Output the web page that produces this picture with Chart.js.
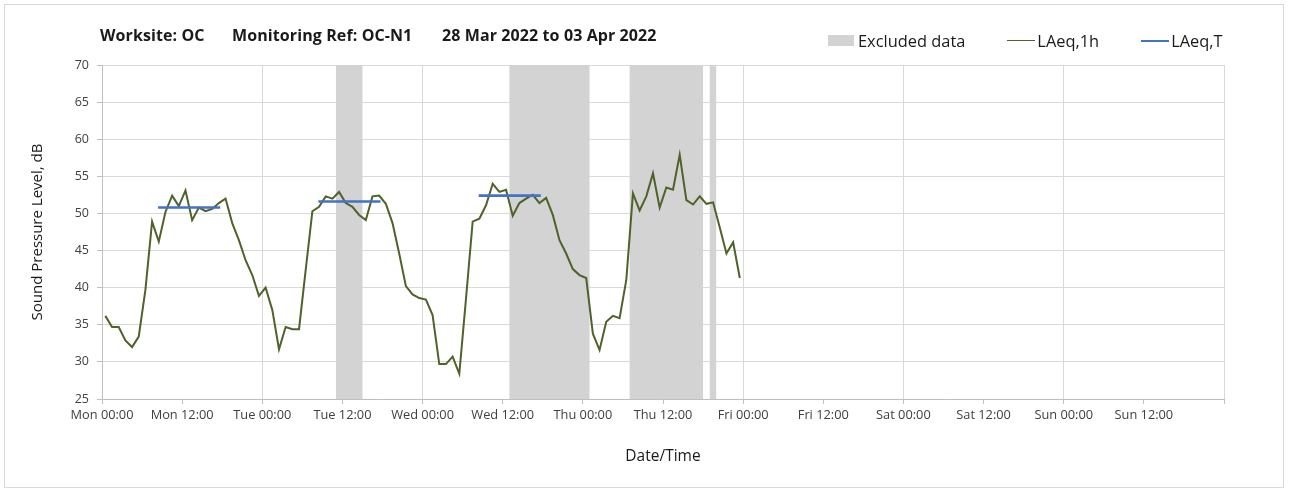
<!DOCTYPE html>
<html>
<head>
<meta charset="utf-8">
<script src="https://cdn.jsdelivr.net/npm/chart.js@4.4.0/dist/chart.umd.min.js"></script>
<style>
  html, body { margin: 0; padding: 0; background: #fff; }
  #wrap { position: relative; width: 1293px; height: 492px; overflow: hidden; }
  #frame { position: absolute; left: 4px; top: 4px; width: 1280px; height: 484px; border: 1px solid #d9d9d9; box-sizing: border-box; pointer-events: none; }
  #title { position: absolute; left: 100px; top: 24px; font-family: "Open Sans", sans-serif; font-weight: bold; font-size: 16px; color: #1a1a1a; white-space: nowrap; letter-spacing: 0.1px; }
  #title span { position: absolute; top: 0; }
  #legend { position: absolute; left: 828px; top: 29px; font-family: "Open Sans", sans-serif; font-size: 16.4px; color: #1a1a1a; white-space: nowrap; display: flex; align-items: center; }
  .lg { display: flex; align-items: center; }
  .sw-box { width: 26px; height: 11px; background: #d3d3d3; margin-right: 4px; }
  .sw-line { width: 28px; height: 0; margin-right: 2px; }
  canvas { position: absolute; left: 0; top: 0; }
</style>
</head>
<body>
<div id="wrap">
  <canvas id="c" width="1293" height="492"></canvas>
  <div id="title"><span style="left:0">Worksite: OC</span><span style="left:132px">Monitoring Ref: OC-N1</span><span style="left:342px">28 Mar 2022 to 03 Apr 2022</span></div>
  <div id="legend"></div>
  <div id="frame"></div>
</div>
<script>
// ---- data (hours from Mon 00:00) ----
const xTickLabels = ['Mon 00:00','Mon 12:00','Tue 00:00','Tue 12:00','Wed 00:00','Wed 12:00','Thu 00:00','Thu 12:00','Fri 00:00','Fri 12:00','Sat 00:00','Sat 12:00','Sun 00:00','Sun 12:00',''];
const laeq1h = [
  36.2, 34.7, 34.7, 32.9, 32.0, 33.4, 39.7, 48.9, 46.2, 50.2, 52.4, 51.0,
  53.1, 49.1, 50.8, 50.3, 50.6, 51.4, 52.0, 48.7, 46.4, 43.7, 41.7, 38.9,
  40.0, 37.0, 31.7, 34.7, 34.4, 34.4, 42.4, 50.3, 50.9, 52.3, 52.0, 52.9,
  51.4, 50.9, 49.8, 49.1, 52.3, 52.4, 51.3, 48.7, 44.6, 40.2, 39.1, 38.6,
  38.4, 36.3, 29.7, 29.7, 30.7, 28.4, 38.5, 48.9, 49.3, 51.1, 54.0, 52.9,
  53.2, 49.7, 51.4, 52.0, 52.5, 51.4, 52.1, 49.8, 46.4, 44.6, 42.5, 41.7,
  41.3, 33.8, 31.6, 35.4, 36.2, 35.9, 41.0, 52.7, 50.4, 52.3, 55.4, 50.8,
  53.5, 53.2, 57.9, 51.8, 51.2, 52.3, 51.3, 51.5, 48.1, 44.6, 46.1, 41.3
];
const laeqT = [50.8, 51.6, 52.4];
const laeqTStart = [8.4, 32.4, 56.4];
const laeqTEnd = [17.7, 41.7, 65.7];
const excludedStart = [35, 61, 79, 91];
const excludedEnd = [39, 73, 90, 92];
const yMin = 25, yMax = 70;

// ---- build library data ----
const lineData = laeq1h.map((v, i) => ({ x: i + 0.5, y: v }));
const tData = [];
laeqT.forEach((v, i) => {
  tData.push({ x: laeqTStart[i], y: v });
  tData.push({ x: laeqTEnd[i], y: v });
  tData.push({ x: laeqTEnd[i] + 0.5, y: null });
});
const exData = [];
excludedStart.forEach((s, i) => {
  exData.push({ x: s, y: yMin });
  exData.push({ x: s, y: yMax });
  exData.push({ x: excludedEnd[i], y: yMax });
  exData.push({ x: excludedEnd[i], y: yMin });
});

const COL_GREEN = '#4f6228';
const COL_BLUE = '#4472c4';
const COL_EX = '#d3d3d3';
const FONT = '"Open Sans", sans-serif';

const chart = new Chart(document.getElementById('c'), {
  type: 'line',
  data: {
    datasets: [
      { label: 'Excluded data', data: exData, fill: 'start', backgroundColor: COL_EX, borderWidth: 0, borderColor: COL_EX, pointRadius: 0, tension: 0, order: 3 },
      { label: 'LAeq,1h', data: lineData, borderColor: COL_GREEN, borderWidth: 2, pointRadius: 0, tension: 0, fill: false, order: 2 },
      { label: 'LAeq,T', data: tData, borderColor: COL_BLUE, borderWidth: 2.6, pointRadius: 0, tension: 0, fill: false, spanGaps: false, order: 1 }
    ]
  },
  options: {
    responsive: false,
    animation: false,
    events: [],
    layout: { padding: { left: 27, right: 69, top: 65, bottom: 22 } },
    plugins: { legend: { display: false }, title: { display: false }, tooltip: { enabled: false } },
    scales: {
      x: {
        type: 'linear', min: 0, max: 168,
        afterFit: (s) => { s.height = 71; },
        afterBuildTicks: (s) => { s.ticks = xTickLabels.map((_, i) => ({ value: i * 12 })); },
        ticks: {
          autoSkip: false, maxRotation: 0, minRotation: 0, padding: 4,
          color: '#404040', font: { family: FONT, size: 12.8 },
          callback: (v) => xTickLabels[Math.round(v / 12)]
        },
        grid: {
          color: (ctx) => (ctx.tick && ctx.tick.value % 24 === 0) ? '#d9d9d9' : 'rgba(0,0,0,0)',
          tickColor: '#bfbfbf', tickLength: 5, lineWidth: 1
        },
        border: { color: '#bfbfbf', width: 1 },
        title: { display: true, text: 'Date/Time', color: '#1a1a1a', font: { family: FONT, size: 15.5 }, padding: { top: 4, bottom: 4 } }
      },
      y: {
        min: yMin, max: yMax,
        afterFit: (s) => { s.width = 75; },
        ticks: { stepSize: 5, padding: 8, color: '#404040', font: { family: FONT, size: 12.5 } },
        grid: { color: '#d9d9d9', tickColor: '#bfbfbf', tickLength: 5, lineWidth: 1 },
        border: { color: '#bfbfbf', width: 1 },
        title: { display: true, text: 'Sound Pressure Level, dB', color: '#1a1a1a', font: { family: FONT, size: 15 }, padding: { top: 2, bottom: 4 } }
      }
    }
  }
});

// ---- HTML legend from dataset definitions ----
const lg = document.getElementById('legend');
const gaps = [42, 42, 0];
chart.data.datasets.forEach((ds, i) => {
  const item = document.createElement('div');
  item.className = 'lg';
  item.style.marginRight = gaps[i] + 'px';
  const sw = document.createElement('div');
  if (ds.fill === 'start') { sw.className = 'sw-box'; sw.style.background = ds.backgroundColor; }
  else { sw.className = 'sw-line'; sw.style.borderTop = (i === 2 ? 2.5 : 1.8) + 'px solid ' + ds.borderColor; }
  const t = document.createElement('span');
  t.textContent = ds.label;
  item.appendChild(sw); item.appendChild(t);
  lg.appendChild(item);
});
</script>
</body>
</html>
